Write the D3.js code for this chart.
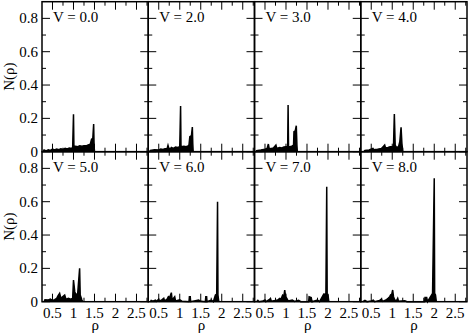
<!DOCTYPE html>
<html>
<head>
<meta charset="utf-8">
<script src="https://cdn.jsdelivr.net/npm/d3@7"></script>
<style>
  body { margin: 0; background: #fff; }
  svg { display: block; }
</style>
</head>
<body>
<div id="chart"></div>
<script>
// panel labels, left to right, top row then bottom row
const potentials = ["0.0", "2.0", "3.0", "4.0", "5.0", "6.0", "7.0", "8.0"];

// N(rho) for each V, [rho, N] pairs
const densityV0 = [[0.28,0],[0.3,0.01],[0.35,0.005],[0.4,0.012],[0.45,0.008],[0.5,0.015],[0.55,0.01],[0.6,0.016],[0.65,0.012],[0.7,0.018],[0.75,0.014],[0.8,0.02],[0.85,0.016],[0.9,0.022],[0.95,0.02],[0.98,0.025],[1.0,0.224],[1.01,0.03],[1.05,0.032],[1.1,0.03],[1.15,0.035],[1.2,0.033],[1.25,0.036],[1.3,0.035],[1.35,0.04],[1.4,0.045],[1.43,0.075],[1.46,0.08],[1.48,0.166],[1.49,0.04],[1.5,0]];
const densityV2 = [[0.28,0],[0.3,0.008],[0.4,0.012],[0.5,0.01],[0.55,0.016],[0.6,0.014],[0.65,0.018],[0.7,0.02],[0.72,0.038],[0.74,0.02],[0.78,0.018],[0.8,0.025],[0.85,0.02],[0.9,0.028],[0.95,0.025],[1.0,0.03],[1.02,0.274],[1.03,0.03],[1.1,0.032],[1.15,0.03],[1.2,0.035],[1.22,0.04],[1.24,0.09],[1.27,0.094],[1.28,0.1],[1.3,0.148],[1.31,0.05],[1.32,0]];
const densityV3 = [[0.28,0],[0.3,0.006],[0.4,0.01],[0.5,0.015],[0.55,0.02],[0.58,0.046],[0.6,0.018],[0.65,0.02],[0.7,0.022],[0.76,0.04],[0.78,0.02],[0.85,0.025],[0.9,0.022],[0.95,0.028],[1.0,0.03],[1.04,0.03],[1.05,0.28],[1.06,0.03],[1.1,0.03],[1.15,0.035],[1.18,0.04],[1.19,0.12],[1.22,0.125],[1.245,0.156],[1.26,0.04],[1.27,0]];
const densityV4 = [[0.32,0],[0.35,0.008],[0.45,0.01],[0.54,0.02],[0.56,0.012],[0.65,0.015],[0.75,0.02],[0.82,0.04],[0.84,0.022],[0.9,0.025],[0.95,0.03],[1.0,0.03],[1.03,0.035],[1.05,0.226],[1.07,0.04],[1.1,0.025],[1.15,0.03],[1.18,0.06],[1.21,0.146],[1.23,0.05],[1.25,0]];
const densityV5 = [[0.3,0],[0.32,0.012],[0.4,0.01],[0.45,0.015],[0.5,0.008],[0.55,0.012],[0.6,0.02],[0.63,0.035],[0.67,0.05],[0.7,0.02],[0.74,0.03],[0.79,0.04],[0.82,0.015],[0.88,0.02],[0.93,0.015],[0.98,0.02],[1.0,0.13],[1.03,0.06],[1.06,0.04],[1.1,0.05],[1.146,0.2],[1.16,0.04],[1.2,0.01],[1.22,0]];
const densityV6 = [[0.3,0],[0.32,0.008],[0.36,0.003],[0.42,0.01],[0.45,0.002],[0.5,0.015],[0.52,0.003],[0.58,0.012],[0.62,0.02],[0.64,0.005],[0.7,0.015],[0.73,0.03],[0.76,0.025],[0.8,0.054],[0.82,0.01],[0.88,0.03],[0.9,0.005],[1.0,0.012],[1.05,0.003],[1.22,0],[1.23,0.03],[1.25,0.03],[1.26,0],[1.45,0.01],[1.5,0.002],[1.61,0],[1.62,0.03],[1.64,0.03],[1.65,0],[1.75,0.01],[1.8,0],[1.85,0.04],[1.88,0.045],[1.9,0.6],[1.91,0.04],[1.93,0]];
const densityV7 = [[0.3,0],[0.33,0.008],[0.36,0],[0.45,0.005],[0.5,0.01],[0.52,0],[0.6,0.012],[0.63,0.02],[0.65,0.003],[0.75,0.008],[0.8,0.01],[0.85,0.02],[0.88,0.015],[0.92,0.04],[0.95,0.035],[0.97,0.07],[0.99,0.03],[1.02,0.02],[1.05,0.005],[1.15,0.01],[1.2,0.002],[1.3,0.008],[1.35,0],[1.54,0],[1.55,0.03],[1.6,0.025],[1.62,0],[1.75,0.01],[1.8,0],[1.9,0.046],[1.95,0.045],[1.97,0.69],[1.98,0.046],[2.0,0.04],[2.02,0]];
const densityV8 = [[0.3,0],[0.35,0.008],[0.4,0],[0.5,0.005],[0.55,0.01],[0.58,0],[0.7,0.008],[0.74,0.015],[0.77,0.002],[0.85,0.01],[0.9,0.02],[0.94,0.03],[0.96,0.04],[0.98,0.035],[1.01,0.07],[1.03,0.03],[1.06,0.01],[1.1,0.005],[1.13,0.02],[1.15,0.003],[1.3,0.005],[1.35,0],[1.77,0],[1.78,0.025],[1.82,0.025],[1.84,0],[1.96,0.05],[2.0,0.74],[2.01,0.05],[2.03,0.04],[2.05,0]];

const densities = [densityV0, densityV2, densityV3, densityV4, densityV5, densityV6, densityV7, densityV8];

// tick values
const xMajor = [0.5, 1, 1.5, 2, 2.5];
const xMinor = [0.75, 1.25, 1.75, 2.25, 2.75];
const yMajor = [0, 0.2, 0.4, 0.6, 0.8];
const yMinor = [0.1, 0.3, 0.5, 0.7];
const yLabels = ["0", "0.2", "0.4", "0.6", "0.8"];

const width = 471,
  height = 334;
const gridLeft = 42,
  gridTop = 1.7,
  panelW = 106.25,
  panelH = 150;
const fontFamily = "'Liberation Serif', 'DejaVu Serif', serif";

const svg = d3
  .select("#chart")
  .append("svg")
  .attr("width", width)
  .attr("height", height)
  .attr("font-family", fontFamily)
  .attr("font-size", 15);

densities.forEach(function (data, i) {
  const col = i % 4,
    row = Math.floor(i / 4);
  const x0 = gridLeft + col * panelW,
    y0 = gridTop + row * panelH;

  const x = d3.scaleLinear().domain([0.25, 2.78]).range([x0, x0 + panelW]);
  const y = d3.scaleLinear().domain([0, 0.9]).range([y0 + panelH, y0]);

  const g = svg.append("g").attr("class", "panel");

  // the curve, filled underneath so the dense parts come out black
  g.append("path")
    .datum(data)
    .attr("d", d3.area().x((d) => x(d[0])).y0(y(0)).y1((d) => y(d[1])))
    .attr("fill", "#000");

  g.append("path")
    .datum(data)
    .attr("d", d3.line().x((d) => x(d[0])).y((d) => y(d[1])))
    .attr("fill", "none")
    .attr("stroke", "#000")
    .attr("stroke-width", 1.5);

  // ticks pointing inward on every side
  const ticks = g.append("g").attr("stroke", "#000").attr("stroke-width", 1);
  const tickSet = [
    ...xMajor.map((v) => ({ v: v, len: 8, axis: "x" })),
    ...xMinor.map((v) => ({ v: v, len: 4, axis: "x" })),
    ...yMajor.map((v) => ({ v: v, len: 8, axis: "y" })),
    ...yMinor.map((v) => ({ v: v, len: 4, axis: "y" })),
  ];
  tickSet.forEach(function (t) {
    if (t.axis === "x") {
      const px = x(t.v);
      ticks.append("line").attr("x1", px).attr("x2", px).attr("y1", y(0)).attr("y2", y(0) - t.len);
      ticks.append("line").attr("x1", px).attr("x2", px).attr("y1", y0).attr("y2", y0 + t.len);
    } else {
      const py = y(t.v);
      ticks.append("line").attr("x1", x0).attr("x2", x0 + t.len).attr("y1", py).attr("y2", py);
      ticks.append("line").attr("x1", x0 + panelW).attr("x2", x0 + panelW - t.len).attr("y1", py).attr("y2", py);
    }
  });

  g.append("rect")
    .attr("x", x0)
    .attr("y", y0)
    .attr("width", panelW)
    .attr("height", panelH)
    .attr("fill", "none")
    .attr("stroke", "#000")
    .attr("stroke-width", 1.5);

  g.append("text")
    .attr("x", x0 + 11)
    .attr("y", y0 + 20)
    .text("V = " + potentials[i]);

  if (col === 0) {
    yMajor.forEach(function (v, k) {
      g.append("text")
        .attr("x", 38)
        .attr("y", y(v))
        .attr("dy", "0.33em")
        .attr("text-anchor", "end")
        .text(yLabels[k]);
    });
    g.append("text")
      .attr("transform", "translate(14," + (y0 + panelH / 2) + ") rotate(-90)")
      .attr("text-anchor", "middle")
      .text("N(ρ)");
  }

  if (row === 1) {
    xMajor.forEach(function (v) {
      g.append("text")
        .attr("x", x(v))
        .attr("y", 318)
        .attr("text-anchor", "middle")
        .text(String(v));
    });
    g.append("text")
      .attr("x", x0 + panelW / 2)
      .attr("y", 330)
      .attr("text-anchor", "middle")
      .text("ρ");
  }
});
</script>
</body>
</html>
